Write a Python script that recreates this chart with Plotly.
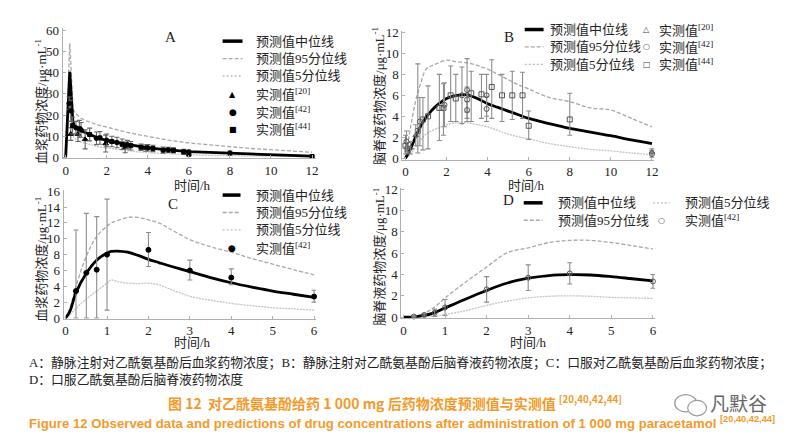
import plotly.graph_objects as go

# ---------------- data ----------------
# Panel A : IV, plasma
a_t = [0, 0.05, 0.1, 0.15, 0.2, 0.25, 0.3, 0.35, 0.4, 0.5, 0.75, 1, 1.5, 2, 2.5, 3, 3.5, 4, 5, 6, 7, 8, 9, 10, 11, 12]
a_med = [0, 12, 25, 35, 40.5, 33, 22, 17, 15.5, 14, 12.6, 11.5, 9.5, 7.9, 7.0, 6.2, 5.3, 4.5, 3.5, 2.7, 2.3, 2.0, 1.6, 1.2, 0.9, 0.6]
a_p95 = [0, 15, 32, 45, 54, 45, 30, 24, 22, 20.5, 18.5, 17.3, 15.5, 14.2, 13, 11.8, 10.8, 9.8, 8.1, 6.8, 5.9, 5.0, 4.2, 3.6, 3.0, 2.4]
a_p5 = [0, 7, 15, 22, 27, 24, 16, 11, 9.5, 8.5, 7.2, 6.5, 5.2, 4.4, 3.7, 3.1, 2.6, 2.2, 1.6, 1.2, 0.95, 0.75, 0.6, 0.5, 0.4, 0.3]
a20_t = [0.25, 0.6, 0.95, 1.95, 2.9, 3.9]
a20_y = [11, 11, 8.5, 6.5, 4.7, 4.4]
a20_e = [3, 3.5, 4.5, 4, 2.5, 1.5]
a42_t = [0.17, 0.25, 0.5, 0.75, 1.5, 2, 2.5, 3, 4, 5, 6, 8]
a42_y = [25.5, 22, 14, 13, 9, 8, 7, 6, 4.5, 3.5, 2.5, 2.0]
a42_e = [3, 5, 3, 3.5, 3, 3, 2.5, 2, 1.5, 1.2, 1, 1]
a44_t = [0.33, 0.67, 1.17, 1.67, 2.25, 2.75, 3.17, 3.67, 4.25, 4.75, 5.25, 5.75, 6.0, 12]
a44_y = [15, 13.5, 10.8, 9.2, 7.5, 6.2, 5.5, 4.8, 4.2, 3.4, 3.3, 2.6, 1.5, 0.4]
a44_e = [4, 4, 3, 3, 2.5, 2.5, 2, 1.5, 1.5, 1.5, 1.2, 1.2, 0.8, 0.3]

# Panel B : IV, CSF
b_t = [0, 0.25, 0.5, 0.75, 1, 1.25, 1.5, 2, 2.5, 3, 3.5, 4, 4.5, 5, 5.5, 6, 7, 8, 9, 10, 11, 12]
b_med = [0, 0.9, 2.1, 3.1, 3.9, 4.5, 5.0, 5.7, 6.0, 6.05, 5.7, 5.2, 4.85, 4.5, 4.15, 3.8, 3.3, 2.85, 2.5, 2.15, 1.75, 1.4]
b_p95 = [0, 3.0, 5.5, 7.2, 8.5, 8.8, 9.0, 9.35, 9.2, 9.1, 8.85, 8.5, 8.0, 7.5, 7.0, 6.6, 5.8, 5.4, 4.8, 4.6, 3.8, 3.0]
b_p5 = [0, 0.4, 1.1, 1.8, 2.3, 2.6, 2.8, 3.2, 3.4, 3.4, 3.2, 3.0, 2.65, 2.3, 2.05, 1.85, 1.4, 1.1, 0.85, 0.7, 0.5, 0.35]
b44_t = [0, 0.1, 0.6, 0.85, 1.1, 1.65, 1.85, 2.2, 2.45, 3.2, 3.7, 4.2, 4.7, 5.2, 5.7, 6.0, 8.0]
b44_y = [1.2, 0.9, 2.6, 3.7, 4.0, 4.8, 4.8, 6.0, 5.7, 6.2, 6.1, 6.8, 6.0, 6.0, 6.0, 3.1, 3.7]
b44_up = [1.0, 0.6, 6.4, 2.1, 2.9, 3.2, 2.3, 2.8, 2.3, 2.1, 1.9, 2.6, 2.0, 2.3, 2.2, 1.4, 2.5]
b44_dn = [0.8, 0.4, 2.1, 2.9, 3.1, 3.1, 2.6, 2.5, 2.2, 2.7, 2.3, 3.0, 2.5, 2.3, 2.2, 1.3, 1.5]
b42_t = [0.05, 0.7, 1.9, 2.75, 3.0, 3.0, 3.0, 3.95, 3.95, 12]
b42_y = [1.6, 3.5, 5.1, 6.0, 6.5, 5.6, 4.6, 6.0, 4.7, 0.4]
b42_e = [1.0, 2.3, 2.1, 2.7, 3.0, 1.2, 0.8, 2.0, 1.2, 0.3]
b20_t = [0.25, 0.5, 12]
b20_y = [1.0, 2.2, 0.6]
b20_e = [0.6, 1.0, 0.3]

# Panel C : oral, plasma
c_t = [0, 0.1, 0.25, 0.5, 0.75, 1, 1.1, 1.25, 1.5, 1.75, 2, 2.25, 2.5, 3, 3.5, 4, 4.5, 5, 5.5, 6]
c_med = [0, 0.8, 3.2, 5.65, 7.3, 8.2, 8.4, 8.45, 8.3, 7.9, 7.4, 7.0, 6.6, 5.85, 5.1, 4.45, 3.9, 3.4, 3.0, 2.6]
c_p95 = [0, 1.2, 4.0, 7.8, 10.3, 11.6, 12.0, 12.3, 12.7, 12.7, 12.4, 12.0, 11.3, 9.9, 9.0, 8.3, 7.5, 6.8, 6.1, 5.45]
c_p5 = [0, 0.4, 1.2, 2.4, 3.4, 4.4, 4.8, 4.6, 4.4, 4.35, 4.4, 4.2, 3.7, 2.75, 2.25, 1.85, 1.55, 1.3, 1.15, 1.0]
c42_t = [0.25, 0.5, 0.75, 1, 2, 3, 4, 6]
c42_y = [3.4, 5.7, 6.1, 8.0, 8.6, 6.0, 5.1, 2.7]
c42_up = [7.7, 7.5, 6.7, 7.0, 2.2, 1.3, 1.1, 0.8]
c42_dn = [3.4, 5.7, 6.1, 7.0, 2.1, 1.2, 0.9, 0.7]

# Panel D : oral, CSF
d_t = [0, 0.25, 0.5, 0.75, 1, 1.5, 2, 2.5, 3, 3.5, 4, 4.5, 5, 5.5, 6]
d_med = [0, 0.02, 0.15, 0.42, 0.85, 1.7, 2.5, 3.2, 3.65, 3.9, 3.98, 3.95, 3.8, 3.6, 3.4]
d_p95 = [0, 0.05, 0.35, 0.95, 1.8, 3.3, 4.7, 6.05, 6.5, 7.0, 7.2, 7.2, 7.0, 6.7, 6.4]
d_p5 = [0, 0.0, 0.03, 0.1, 0.25, 0.6, 1.1, 1.5, 1.8, 1.95, 2.0, 1.95, 1.85, 1.8, 1.75]
d42_t = [0.25, 0.5, 0.75, 1, 2, 3, 4, 6]
d42_y = [0.05, 0.2, 0.4, 0.9, 2.6, 3.7, 4.1, 3.35]
d42_e = [0.05, 0.1, 0.35, 0.75, 1.2, 1.2, 1.0, 0.65]

# text
leg_med = "预测值中位线"
leg_p95 = "预测值95分位线"
leg_p5 = "预测值5分位线"
leg_o20 = "实测值<sup>[20]</sup>"
leg_o42 = "实测值<sup>[42]</sup>"
leg_o44 = "实测值<sup>[44]</sup>"
ytitle_plasma = "血浆药物浓度/μg·mL<sup>-1</sup>"
ytitle_csf = "脑脊液药物浓度/μg·mL<sup>-1</sup>"
xtitle = "时间/h"
cap1 = "A：静脉注射对乙酰氨基酚后血浆药物浓度；B：静脉注射对乙酰氨基酚后脑脊液药物浓度；C：口服对乙酰氨基酚后血浆药物浓度；"
cap2 = "D：口服乙酰氨基酚后脑脊液药物浓度"
title_cn = "图 12\u00a0\u00a0对乙酰氨基酚给药 1\u00a0000 mg 后药物浓度预测值与实测值 <sup>[20,40,42,44]</sup>"
title_en = "Figure 12 Observed data and predictions of drug concentrations after administration of 1\u00a0000 mg paracetamol <sup>[20,40,42,44]</sup>"
watermark = "凡默谷"

# ---------------- styling ----------------
W, H = 790, 440
SERIF = "Liberation Serif, Noto Sans CJK SC"
CJK = "Liberation Serif, Noto Sans CJK SC"
MED = dict(color="black", width=2.8)
P95 = dict(color="#a8a8a8", width=1.3, dash="4px,2px")
P5 = dict(color="#c4c4c4", width=1.3, dash="2px,1px")
ORANGE = "#f39a2b"


def fx(p):
    return p / W


def fy(p):
    return 1 - p / H


fig = go.Figure()


def add_lines(t, med, p95, p5, xa, ya, shape):
    for y, ln in ((p5, P5), (p95, P95), (med, MED)):
        fig.add_trace(go.Scatter(x=t, y=y, mode="lines", line=dict(**ln, shape=shape),
                                 xaxis=xa, yaxis=ya, showlegend=False, hoverinfo="skip"))


def add_obs(t, y, up, dn, xa, ya, symbol, color, fill, size, ecolor):
    fig.add_trace(go.Scatter(
        x=t, y=y, mode="markers", xaxis=xa, yaxis=ya, showlegend=False,
        marker=dict(symbol=symbol, size=size, color=fill, line=dict(color=color, width=1.0)),
        error_y=dict(type="data", array=up, arrayminus=dn, color=ecolor, thickness=1.1, width=2.5),
        cliponaxis=False))


# Panel A
add_lines(a_t, a_med, a_p95, a_p5, "x", "y", "linear")
add_obs(a20_t, a20_y, a20_e, a20_e, "x", "y", "triangle-up", "black", "black", 5, "#666")
add_obs(a42_t, a42_y, a42_e, a42_e, "x", "y", "circle", "black", "black", 4.5, "#666")
add_obs(a44_t, a44_y, a44_e, a44_e, "x", "y", "square", "black", "black", 4, "#666")
# Panel B
add_lines(b_t, b_med, b_p95, b_p5, "x2", "y2", "spline")
add_obs(b44_t, b44_y, b44_up, b44_dn, "x2", "y2", "square-open", "#555", "#555", 5, "#8c8c8c")
add_obs(b42_t, b42_y, b42_e, b42_e, "x2", "y2", "circle-open", "#555", "#555", 5, "#8c8c8c")
add_obs(b20_t, b20_y, b20_e, b20_e, "x2", "y2", "triangle-up-open", "#555", "#555", 5, "#8c8c8c")
# Panel C
add_lines(c_t, c_med, c_p95, c_p5, "x3", "y3", "spline")
add_obs(c42_t, c42_y, c42_up, c42_dn, "x3", "y3", "circle", "black", "black", 5, "#8c8c8c")
# Panel D
add_lines(d_t, d_med, d_p95, d_p5, "x4", "y4", "spline")
add_obs(d42_t, d42_y, d42_e, d42_e, "x4", "y4", "circle-open", "#555", "#555", 5, "#8c8c8c")

ax_common = dict(showgrid=False, zeroline=False, showline=True, linecolor="#b0b0b0", linewidth=1,
                 ticks="inside", ticklen=3, tickcolor="#b0b0b0",
                 tickfont=dict(family=SERIF, size=13, color="#222"))

panels = {
    # name: (xdom px, xrange, xticks, ydom px(top,bottom), yrange, yticks)
    "1": ((53.9, 309.1), [-0.15, 12.2], list(range(0, 13, 2)), (13.8, 148.1), [-0.5, 61], list(range(0, 61, 10))),
    "2": ((395.9, 649.5), [-0.15, 12.12], list(range(0, 13, 2)), (16.9, 149.6), [-0.15, 12.1], list(range(0, 13, 2))),
    "3": ((54.9, 309.1), [-0.05, 6.05], list(range(0, 7)), (181.2, 313.8), [-0.1, 16.1], list(range(0, 17, 2))),
    "4": ((394.9, 650.1), [-0.05, 6.05], list(range(0, 7)), (178.9, 313.1), [-0.1, 12.1], list(range(0, 13, 2))),
}
lay = {}
for k, (xd, xr, xt, yd, yr, yt) in panels.items():
    xn = "xaxis" if k == "1" else "xaxis" + k
    yn = "yaxis" if k == "1" else "yaxis" + k
    anc_x = "y" if k == "1" else "y" + k
    anc_y = "x" if k == "1" else "x" + k
    lay[xn] = dict(ax_common, domain=[fx(xd[0]), fx(xd[1])], range=xr, tickvals=xt, anchor=anc_x)
    lay[yn] = dict(ax_common, domain=[fy(yd[1]), fy(yd[0])], range=yr, tickvals=yt, anchor=anc_y)

fig.update_layout(width=W, height=H, margin=dict(l=0, r=0, t=0, b=0),
                  paper_bgcolor="white", plot_bgcolor="white", showlegend=False, **lay)

ann = []
shapes = []


def text(x, y, s, size=13, family=CJK, color="#222", anchor="left", angle=0, weight=None):
    f = dict(family=family, size=size, color=color)
    if weight:
        f["weight"] = weight
    ann.append(dict(x=fx(x), y=fy(y), xref="paper", yref="paper", text=s, showarrow=False,
                    xanchor=anchor, yanchor="middle", font=f, textangle=angle))


def lseg(x0, x1, y, ln):
    shapes.append(dict(type="line", xref="paper", yref="paper", x0=fx(x0), x1=fx(x1), y0=fy(y), y1=fy(y),
                       line=dict(color=ln["color"], width=ln["width"], dash=ln.get("dash", "solid"))))


LEG_MED = dict(color="black", width=3.5)
LEG_P95 = dict(color="#a8a8a8", width=1.3, dash="4px,2px")
LEG_P5 = dict(color="#bdbdbd", width=1.3, dash="2px,2px")
MK = "DejaVu Sans"

# panel letters
text(163, 23, "A", 15, SERIF, "#222", "center")
text(503, 23, "B", 15, SERIF, "#222", "center")
text(165, 195, "C", 15, SERIF, "#222", "center")
text(503, 191, "D", 15, SERIF, "#222", "center")

# axis titles
text(32, 89, ytitle_plasma, 13, CJK, "#222", "center", -90)
text(372, 84, ytitle_csf, 13, CJK, "#222", "center", -90)
text(32, 252, ytitle_plasma, 13, CJK, "#222", "center", -90)
text(372, 250, ytitle_csf, 13, CJK, "#222", "center", -90)
text(185, 176, xtitle, 13, CJK, "#222", "center")
text(521, 176, xtitle, 13, CJK, "#222", "center")
text(185, 338, xtitle, 13, CJK, "#222", "center")
text(523, 338, xtitle, 13, CJK, "#222", "center")

# legend A
ra = [27, 45, 63, 82, 100, 118]
lseg(215, 235, ra[0], LEG_MED)
lseg(215, 235, ra[1], LEG_P95)
lseg(215, 235, ra[2], LEG_P5)
text(225, ra[3], "▲", 8, MK, "black", "center")
text(225, ra[4], "●", 9, MK, "black", "center")
text(225, ra[5], "■", 8, MK, "black", "center")
for r, s in zip(ra, [leg_med, leg_p95, leg_p5, leg_o20, leg_o42, leg_o44]):
    text(247, r, s)

# legend B
rb = [15, 33, 51]
lseg(519, 538, rb[0], LEG_MED)
lseg(519, 538, rb[1], LEG_P95)
lseg(519, 538, rb[2], LEG_P5)
for r, s in zip(rb, [leg_med, leg_p95, leg_p5]):
    text(542, r, s)
text(642, rb[0], "△", 8, MK, "#444", "center")
text(642, rb[1], "○", 8, MK, "#444", "center")
text(642, rb[2], "□", 8, MK, "#444", "center")
for r, s in zip(rb, [leg_o20, leg_o42, leg_o44]):
    text(652, r, s)

# legend C
rc = [186, 204, 222, 241]
lseg(215, 233, rc[0], LEG_MED)
lseg(215, 233, rc[1], LEG_P95)
lseg(215, 233, rc[2], LEG_P5)
text(224, rc[3], "●", 9, MK, "black", "center")
for r, s in zip(rc, [leg_med, leg_p95, leg_p5, leg_o42]):
    text(247, r, s)

# legend D
rd = [194, 212]
lseg(518, 537, rd[0], LEG_MED)
lseg(518, 537, rd[1], LEG_P95)
text(550, rd[0], leg_med)
text(550, rd[1], leg_p95)
lseg(648, 665, rd[0], LEG_P5)
text(657, rd[1], "○", 8, MK, "#444", "center")
text(678, rd[0], leg_p5)
text(678, rd[1], leg_o42)

# captions
text(18, 359, cap1, 12.8, CJK, "#222")
text(18, 376, cap2, 12.8, CJK, "#222")
text(388, 400, title_cn, 14, "Noto Sans CJK SC", ORANGE, "center", weight="bold")
text(18, 421, title_en, 13.2, "Liberation Sans", ORANGE, "left", weight="bold")

# watermark
shapes.append(dict(type="circle", xref="paper", yref="paper", x0=fx(670), x1=fx(692), y0=fy(410), y1=fy(392),
                   line=dict(color="#9a9a9a", width=1.2), fillcolor="white"))
shapes.append(dict(type="circle", xref="paper", yref="paper", x0=fx(683), x1=fx(702), y0=fy(414), y1=fy(398),
                   line=dict(color="#9a9a9a", width=1.2), fillcolor="white"))
text(734, 400, watermark, 19, "Noto Sans CJK SC", "#666", "center")

fig.update_layout(annotations=ann, shapes=shapes)
fig.write_html("out.html")
